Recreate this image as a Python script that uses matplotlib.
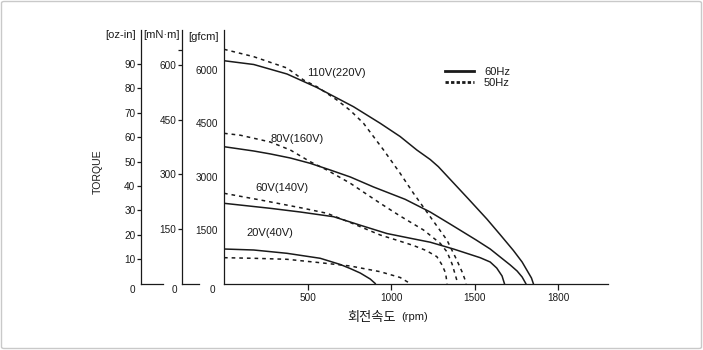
import matplotlib
matplotlib.use('Agg')
import matplotlib.pyplot as plt
from matplotlib.lines import Line2D
from matplotlib.patches import FancyBboxPatch

plt.rcParams['font.family'] = ['Liberation Sans', 'DejaVu Sans']

# speed (rpm) / torque (gfcm) for each voltage, 60Hz and 50Hz
rpm_110_60 = [0, 178, 377, 556, 775, 935, 1054, 1154, 1234, 1283, 1463, 1573,
              1652, 1732, 1784, 1819, 1840, 1851]
tq_110_60 = [6258, 6152, 5885, 5506, 4966, 4500, 4129, 3750, 3483, 3281, 2374, 1812,
             1376, 927, 604, 323, 154, 0]
rpm_110_50 = [0, 178, 377, 476, 556, 676, 756, 835, 955, 1054, 1134, 1234, 1334,
              1393, 1425, 1443, 1449]
tq_110_50 = [6579, 6371, 6053, 5716, 5528, 5154, 4860, 4500, 3750, 3096, 2534, 1876,
             1222, 660, 323, 98, 0]

rpm_80_60 = [0, 178, 277, 397, 516, 636, 756, 895, 1084, 1234, 1353, 1509, 1593, 1653,
             1713, 1754, 1784, 1806]
tq_80_60 = [3843, 3722, 3640, 3525, 3376, 3188, 2992, 2711, 2365, 2008, 1671, 1222, 969,
            744, 520, 351, 183, 0]
rpm_80_50 = [0, 98, 277, 397, 516, 616, 756, 935, 1054, 1194, 1294, 1335, 1365, 1393, 1398]
tq_80_50 = [4219, 4165, 3975, 3750, 3421, 3188, 2815, 2253, 1896, 1503, 1129, 885, 548, 98, 0]

rpm_60_60 = [0, 277, 457, 656, 815, 975, 1114, 1234, 1373, 1533, 1593, 1632, 1664, 1678]
tq_60_60 = [2253, 2112, 2008, 1876, 1638, 1404, 1272, 1160, 969, 725, 604, 435, 211, 0]
rpm_60_50 = [0, 218, 476, 616, 756, 935, 1031, 1134, 1210, 1274, 1305, 1326, 1335]
tq_60_50 = [2534, 2346, 2112, 1972, 1713, 1362, 1222, 1067, 927, 753, 520, 295, 0]

rpm_20_60 = [0, 178, 377, 576, 696, 755, 815, 875, 905]
tq_20_60 = [969, 941, 848, 708, 534, 421, 295, 126, 0]
rpm_20_50 = [0, 178, 377, 576, 755, 935, 1054, 1114]
tq_20_50 = [725, 708, 680, 584, 492, 331, 169, 0]

# curve labels and where they sit (rpm, gfcm)
volt_labels = ['110V(220V)', '80V(160V)', '60V(140V)', '20V(40V)']
label_rpm = [670, 439, 348, 277]
label_tq = [5904, 4059, 2691, 1410]

x_ticks = [500, 1000, 1500, 2000]
x_ticklabels = ['500', '1000', '1500', '1800']
gf_ticks = [1500, 3000, 4500, 6000]
mn_ticks = [150, 300, 450, 600, 640]
mn_ticklabels = ['150', '300', '450', '600', '']
oz_ticks = [10, 20, 30, 40, 50, 60, 70, 80, 90]

ink = '#1a1a1a'
W, H = 703, 350
fig = plt.figure(figsize=(W / 100, H / 100), dpi=100)

y0, y1 = 283.5, 30


def rect(left, right):
    return [left / W, (H - y0) / H, (right - left) / W, (y0 - y1) / H]


ax = fig.add_axes(rect(224, 608))
ax_mn = fig.add_axes(rect(182, 199))
ax_oz = fig.add_axes(rect(141, 163))

solid = dict(color=ink, lw=1.1, solid_joinstyle='round')
dashed = dict(color=ink, lw=1.1, linestyle=(0, (2.4, 2.6)))
for xs, ys in [(rpm_110_60, tq_110_60), (rpm_80_60, tq_80_60),
               (rpm_60_60, tq_60_60), (rpm_20_60, tq_20_60)]:
    ax.plot(xs, ys, **solid)
for xs, ys in [(rpm_110_50, tq_110_50), (rpm_80_50, tq_80_50),
               (rpm_60_50, tq_60_50), (rpm_20_50, tq_20_50)]:
    ax.plot(xs, ys, **dashed)

for txt, xr, yt in zip(volt_labels, label_rpm, label_tq):
    ax.text(xr, yt, txt, fontsize=8, color=ink, ha='center', va='center')

ax.set_xlim(0, 2298)
ax.set_ylim(0, 7121)
ax.set_xticks(x_ticks)
ax.set_xticklabels(x_ticklabels)
ax.set_yticks(gf_ticks)
ax.tick_params(axis='x', direction='out', length=4.3, width=0.9, pad=2.5,
               labelsize=7.2, colors=ink)
ax.tick_params(axis='y', length=0, pad=4.3, labelsize=7.2, colors=ink)

for a in (ax, ax_mn, ax_oz):
    for side in ('top', 'right'):
        a.spines[side].set_visible(False)
    for side in ('left', 'bottom'):
        a.spines[side].set_linewidth(0.9)
        a.spines[side].set_color(ink)
    a.patch.set_alpha(0)

ax_mn.set_ylim(0, 696)
ax_mn.set_xticks([])
ax_mn.set_yticks(mn_ticks)
ax_mn.set_yticklabels(mn_ticklabels)
ax_mn.tick_params(axis='y', length=3, width=0.9, pad=1, labelsize=7.2, colors=ink)

ax_oz.set_ylim(0, 104)
ax_oz.set_xticks([])
ax_oz.set_yticks(oz_ticks)
ax_oz.tick_params(axis='y', length=3, width=0.9, pad=1, labelsize=7.2, colors=ink)

# legend
handles = [Line2D([], [], color=ink, lw=2.0),
           Line2D([], [], color=ink, lw=2.0, linestyle=(0, (1.2, 0.8)))]
ax.legend(handles, ['60Hz', '50Hz'], loc='upper left', frameon=False,
          bbox_to_anchor=(445 / W, (H - 67) / H), bbox_transform=fig.transFigure,
          fontsize=8, handlelength=2.6, handletextpad=0.9, labelspacing=0.08,
          borderpad=0, borderaxespad=0, labelcolor=ink)


def ftext(x, y, s, **kw):
    fig.text(x / W, (H - y) / H, s, color=ink, **kw)


# unit captions over each torque axis
ftext(135.5, 35, '[oz-in]', fontsize=8, ha='right', va='center')
ftext(179.5, 35, '[mN·m]', fontsize=8, ha='right', va='center')
ftext(218.5, 36.5, '[gfcm]', fontsize=8, ha='right', va='center')

# zeros under each torque axis
for xz in (132, 174, 212):
    ftext(xz, 290, '0', fontsize=7.2, ha='center', va='center')

ftext(98, 172, 'TORQUE', fontsize=7.6, rotation=90, ha='center', va='center')
ftext(371.5, 317, '회전속도', fontsize=9.5, ha='center', va='center',
      family=['Noto Sans CJK KR', 'DejaVu Sans'])
ftext(401.5, 317, '(rpm)', fontsize=8, ha='left', va='center')

# light outer frame
fig.patches.append(FancyBboxPatch((1.5 / W, 1.5 / H), (W - 3) / W, (H - 3) / H,
                                  boxstyle='round,pad=0,rounding_size=0.004',
                                  transform=fig.transFigure, fill=False,
                                  edgecolor='#c9c9c9', lw=1.0))

fig.savefig('out.png', dpi=100)
